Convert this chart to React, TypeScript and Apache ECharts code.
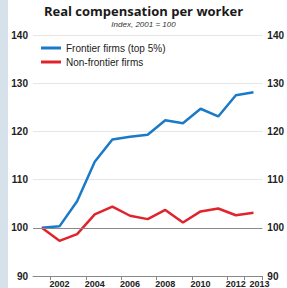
import React, { useEffect, useRef } from "react";
import * as echarts from "echarts";

const years = ["2001","2002","2003","2004","2005","2006","2007","2008","2009","2010","2011","2012","2013"];
const frontier = [100, 100.3, 105.5, 113.7, 118.3, 118.9, 119.3, 122.3, 121.7, 124.7, 123.1, 127.5, 128.1];
const nonFrontier = [100, 97.3, 98.7, 102.8, 104.4, 102.5, 101.8, 103.7, 101.1, 103.4, 104.0, 102.6, 103.1];
const labelYears = ["2002","2004","2006","2008","2010","2012"];
const lastLabelYears = ["2013"];
const tickYears = ["2002","2004","2006","2008","2010","2012","2013"];

const FONT = "'Liberation Sans', Arial, sans-serif";

export default function App() {
  const ref = useRef<HTMLDivElement>(null);
  useEffect(() => {
    if (!ref.current) return;
    const chart = echarts.init(ref.current, null, { renderer: "svg" });
    const yAxisCommon = {
      type: "value",
      min: 90,
      max: 140,
      interval: 10,
      axisLine: { show: false },
      axisTick: { show: false },
      splitLine: { show: true, lineStyle: { color: "#e6e6e6", width: 1 } },
      axisLabel: { color: "#222", fontSize: 10, fontFamily: FONT, fontWeight: "bold", margin: 5 },
    };
    const xLabelStyle = {
      color: "#222",
      fontSize: 9,
      fontFamily: FONT,
      fontWeight: "bold",
      margin: 3,
      hideOverlap: false,
    };
    chart.setOption({
      animation: false,
      graphic: [
        { type: "rect", left: 0, top: 0, shape: { width: 8, height: 288 }, style: { fill: "#d7e1ea" } },
        { type: "text", left: "center", top: 4, style: { text: "Real compensation per worker", font: "bold 13px 'Open Sans', " + FONT, fill: "#1a1a1a" } },
        { type: "text", left: "center", top: 20, style: { text: "Index, 2001 = 100", font: "italic 8px " + FONT, fill: "#333" } },
      ],
      legend: {
        left: 36,
        top: 38,
        orient: "vertical",
        itemWidth: 20,
        itemHeight: 3,
        itemGap: 4,
        icon: "rect",
        textStyle: { fontSize: 10, fontFamily: FONT, color: "#222" },
        data: ["Frontier firms (top 5%)", "Non-frontier firms"],
      },
      grid: { left: 33, right: 19, top: 35, bottom: 12, containLabel: false },
      xAxis: [
        {
          type: "category",
          data: years,
          boundaryGap: true,
          axisLine: { show: true, lineStyle: { color: "#888", width: 1 } },
          axisTick: {
            show: true,
            length: 4,
            lineStyle: { color: "#888" },
            interval: (i: number, v: string) => tickYears.includes(v),
          },
          axisLabel: {
            ...xLabelStyle,
            interval: (i: number, v: string) => labelYears.includes(v),
          },
          splitLine: { show: false },
        },
        {
          type: "category",
          data: years,
          position: "bottom",
          boundaryGap: true,
          axisLine: { show: false },
          axisTick: { show: false },
          axisLabel: {
            ...xLabelStyle,
            padding: [0, 0, 0, 12],
            interval: (i: number, v: string) => lastLabelYears.includes(v),
          },
          splitLine: { show: false },
        },
      ],
      yAxis: [
        { ...yAxisCommon, position: "left" },
        { ...yAxisCommon, position: "right", splitLine: { show: false } },
      ],
      series: [
        {
          name: "Frontier firms (top 5%)",
          type: "line",
          data: frontier,
          symbol: "none",
          lineStyle: { color: "#1a7ac8", width: 2.5 },
          itemStyle: { color: "#1a7ac8" },
          z: 3,
          markLine: {
            silent: true,
            symbol: "none",
            label: { show: false },
            lineStyle: { color: "#8a8a8a", width: 1, type: "solid" },
            data: [{ yAxis: 100 }],
          },
        },
        {
          name: "Non-frontier firms",
          type: "line",
          data: nonFrontier,
          symbol: "none",
          lineStyle: { color: "#e0242c", width: 2.5 },
          itemStyle: { color: "#e0242c" },
          z: 3,
        },
      ],
    });
    return () => chart.dispose();
  }, []);
  return <div ref={ref} style={{ width: 287, height: 288, position: "absolute", left: 0, top: 0, background: "#fff" }} />;
}
